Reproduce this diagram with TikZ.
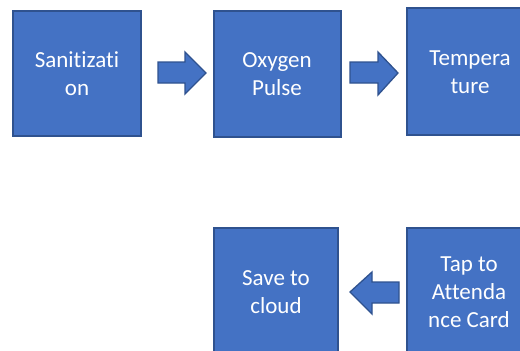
\documentclass[tikz,border=0pt]{standalone}
\usepackage{fontspec}
\setmainfont[Ligatures=CommonOff]{Carlito}
\definecolor{boxfill}{HTML}{4472C4}
\definecolor{boxline}{HTML}{2F528F}
\begin{document}
\begin{tikzpicture}[x=1pt,y=-1pt,
  stepbox/.style={draw=boxline,line width=1.3pt,fill=boxfill},
  steptext/.style={text=white,align=center,font=\fontsize{23}{28}\selectfont,inner sep=0pt},
  blockarrow/.style={draw=boxline,line width=1.3pt,fill=boxfill,line join=miter}]
\useasboundingbox (0,0) rectangle (520,351);
\clip (0,0) rectangle (520,351);
% boxes
\draw[stepbox] (13,11) rectangle (141,136);
\draw[stepbox] (214,11) rectangle (341,137);
\draw[stepbox] (407,8) rectangle (534,135);
\draw[stepbox] (214,228) rectangle (338,355);
\draw[stepbox] (407,228) rectangle (534,355);
% texts
\node[steptext] (t1) at (77,74) {Sanitizati\\on};
\node[steptext] (t2) at (277,74) {Oxygen\\Pulse};
\node[steptext] (t3) at (470,72) {Tempera\\ture};
\node[steptext] (t4) at (276,292) {Save to\\cloud};
\node[steptext] (t5) at (469,292) {Tap to\\Attenda\\nce Card};
% block arrows
\draw[blockarrow] (158,62) -- (185,62) -- (185,52) -- (206,73) -- (185,94) -- (185,83) -- (158,83) -- cycle;
\draw[blockarrow] (350,62) -- (378,62) -- (378,52) -- (398,73) -- (378,95) -- (378,83) -- (350,83) -- cycle;
\draw[blockarrow] (399,282) -- (372,282) -- (372,272) -- (350,292) -- (372,314) -- (372,303) -- (399,303) -- cycle;
\end{tikzpicture}
\end{document}
